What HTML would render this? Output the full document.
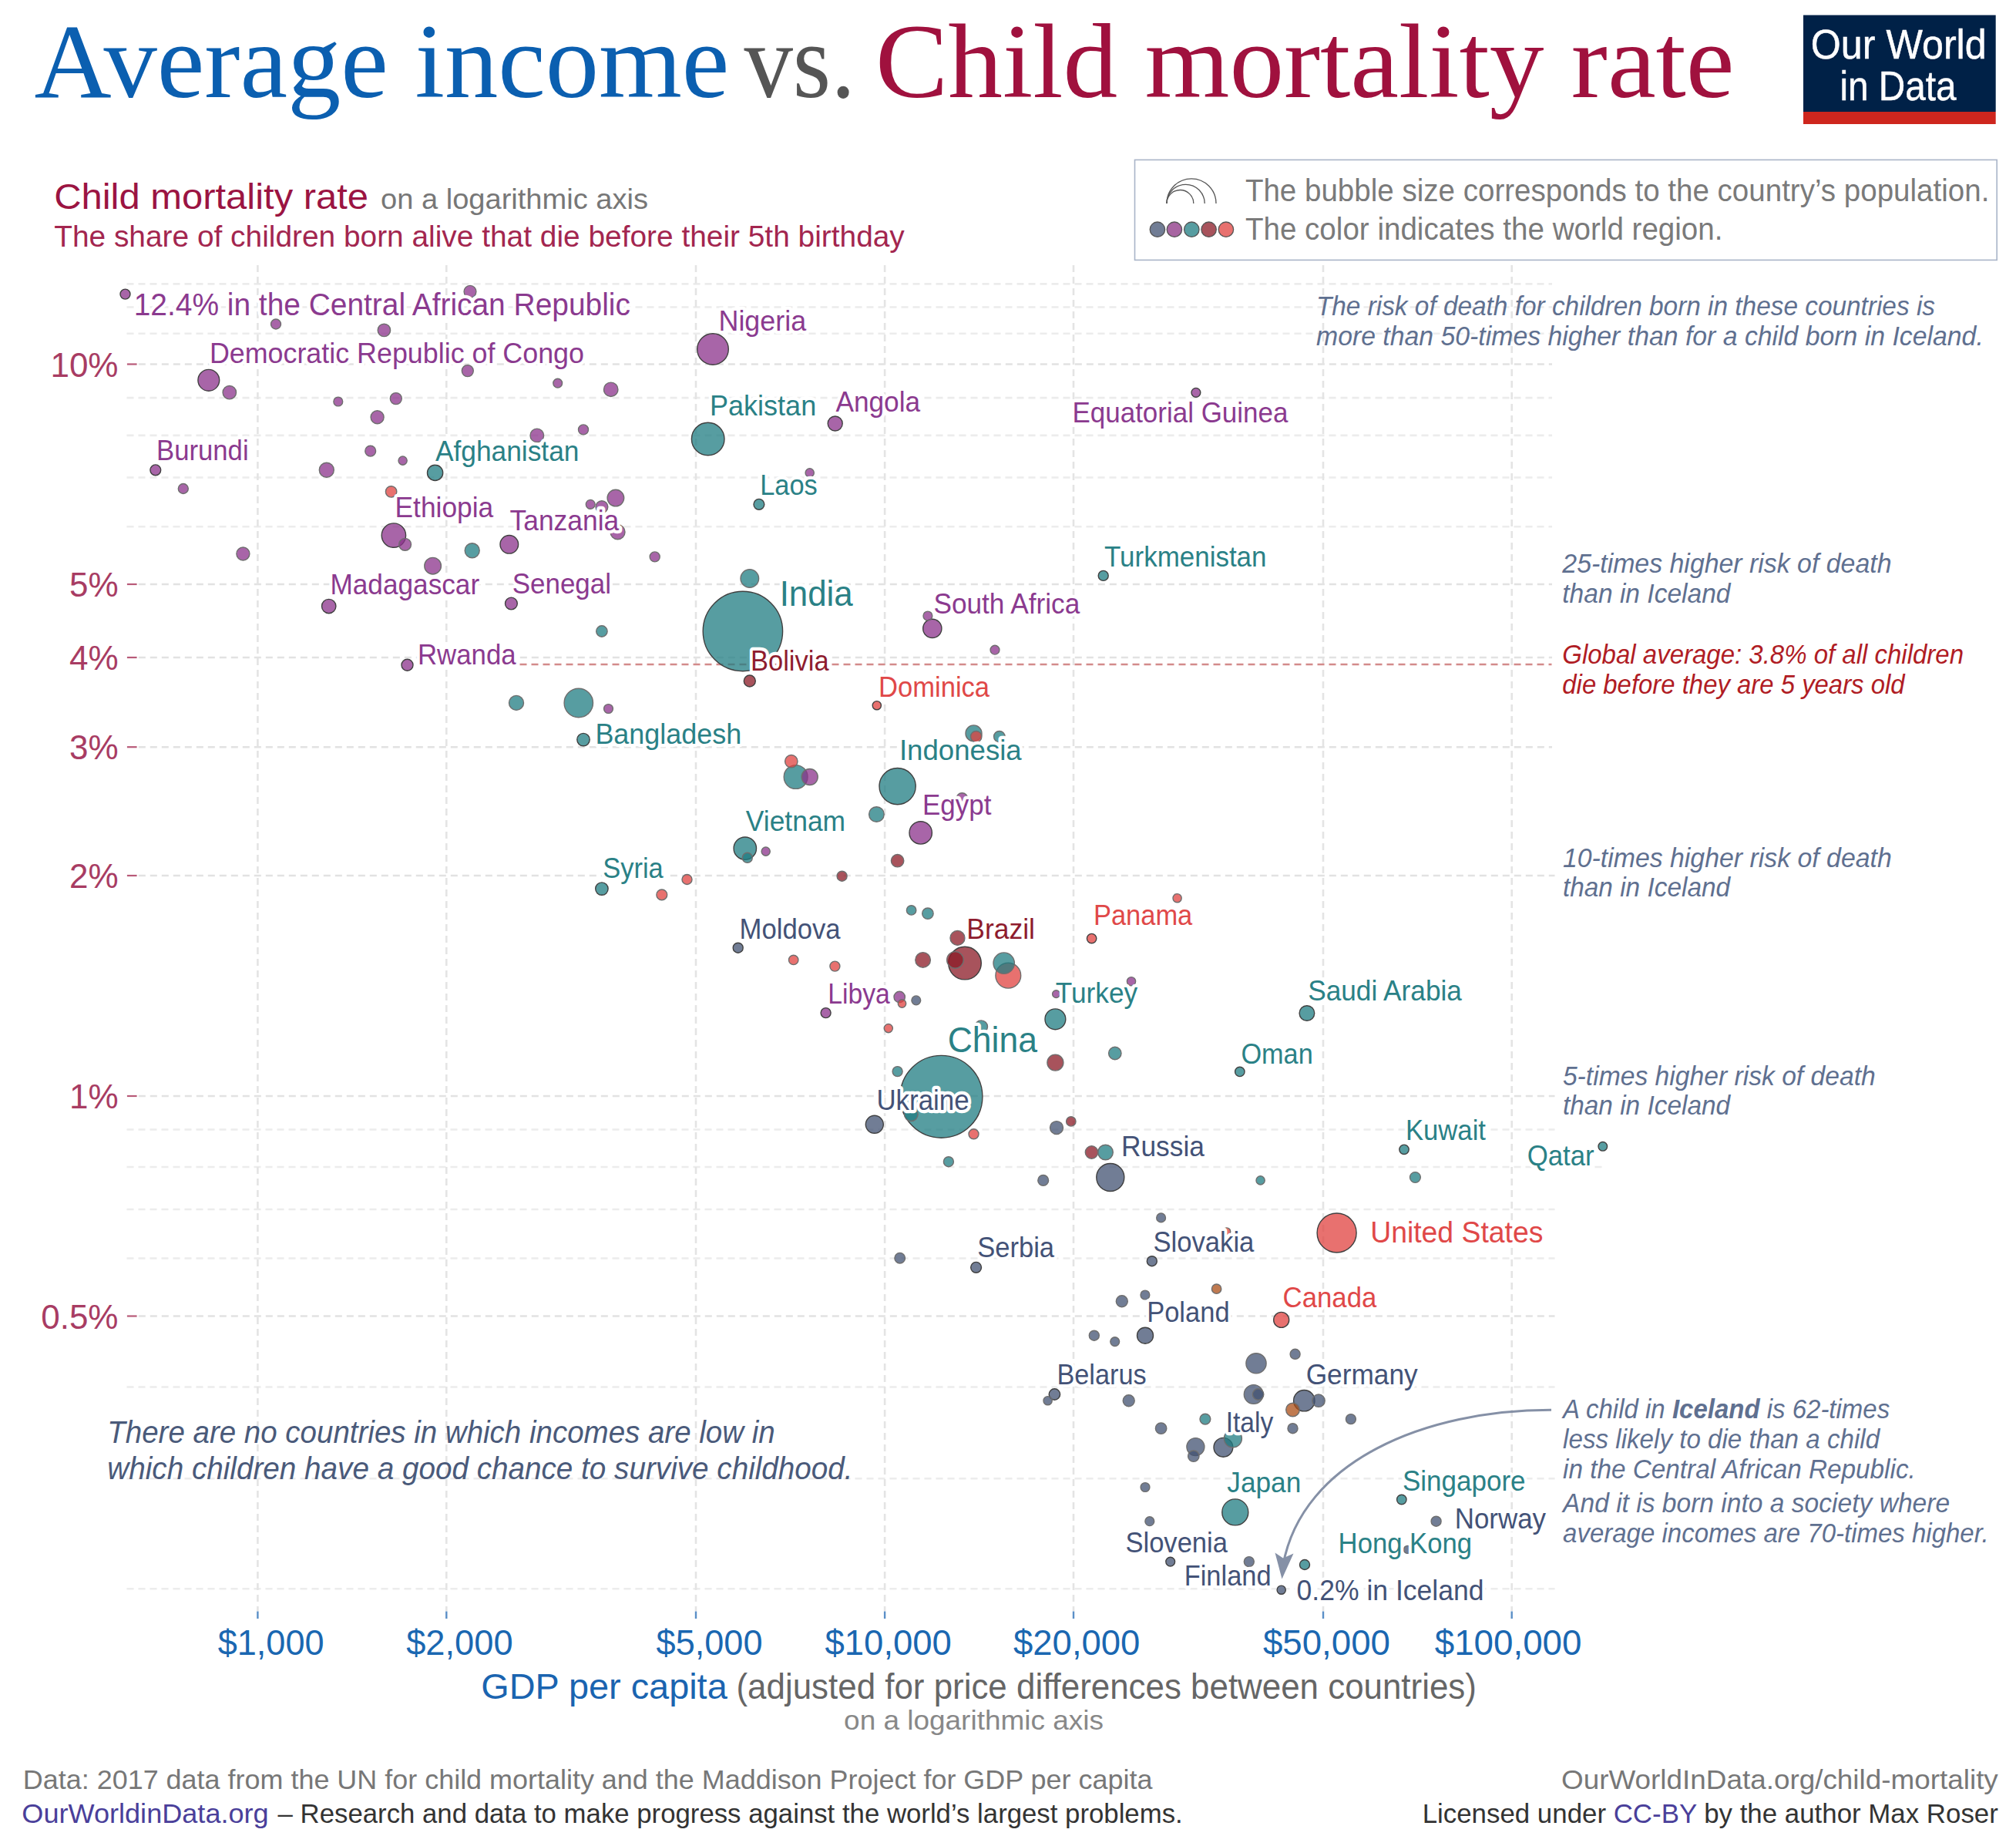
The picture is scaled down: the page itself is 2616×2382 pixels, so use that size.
<!DOCTYPE html><html><head><meta charset="utf-8"><title>Average income vs. Child mortality rate</title>
<style>html,body{margin:0;padding:0;background:#fff;}body{width:2616px;height:2382px;overflow:hidden;}svg{display:block;}text{white-space:pre;}</style></head><body>
<svg width="2616" height="2382" viewBox="0 0 2616 2382">
<rect x="0" y="0" width="2616" height="2382" fill="#ffffff"/>
<text x="44.6" y="126.2" font-family='"Liberation Serif", serif' font-size="138" fill="#0b5fb0" font-weight="normal" font-style="normal" textLength="901.8" lengthAdjust="spacingAndGlyphs">Average income</text>
<text x="965.4" y="126.2" font-family='"Liberation Serif", serif' font-size="138" fill="#555555" font-weight="normal" font-style="normal" textLength="144.6" lengthAdjust="spacingAndGlyphs">vs.</text>
<text x="1136.1" y="126.2" font-family='"Liberation Serif", serif' font-size="138" fill="#a0113e" font-weight="normal" font-style="normal" textLength="1114.5" lengthAdjust="spacingAndGlyphs">Child mortality rate</text>
<rect x="2340" y="19.6" width="249.7" height="125.4" fill="#002147"/>
<rect x="2340" y="145" width="249.7" height="16" fill="#ce261e"/>
<text x="2349.8" y="75.8" font-family='"Liberation Sans", sans-serif' font-size="53" fill="#ffffff" font-weight="normal" font-style="normal" textLength="227.9" lengthAdjust="spacingAndGlyphs" stroke="#ffffff" stroke-width="0.5">Our World</text>
<text x="2387.4" y="129.8" font-family='"Liberation Sans", sans-serif' font-size="53" fill="#ffffff" font-weight="normal" font-style="normal" textLength="151.2" lengthAdjust="spacingAndGlyphs" stroke="#ffffff" stroke-width="0.5">in Data</text>
<text x="70.2" y="270.8" font-family='"Liberation Sans", sans-serif' font-size="47" fill="#9b1442" font-weight="normal" font-style="normal" textLength="407.8" lengthAdjust="spacingAndGlyphs">Child mortality rate</text>
<text x="494.0" y="270.8" font-family='"Liberation Sans", sans-serif' font-size="37" fill="#777777" font-weight="normal" font-style="normal" textLength="347.0" lengthAdjust="spacingAndGlyphs">on a logarithmic axis</text>
<text x="70.2" y="319.6" font-family='"Liberation Sans", sans-serif' font-size="39" fill="#a3264f" font-weight="normal" font-style="normal" textLength="1103.6" lengthAdjust="spacingAndGlyphs">The share of children born alive that die before their 5th birthday</text>
<rect x="1472.5" y="207.4" width="1118.7" height="130" fill="#ffffff" stroke="#a9b4c8" stroke-width="1.6"/>
<path d="M1514 263.9 A17.4 17.4 0 0 1 1548.8 263.9" fill="none" stroke="#555" stroke-width="1.3"/>
<path d="M1514 263.9 A24.6 24.6 0 0 1 1563.2 263.9" fill="none" stroke="#555" stroke-width="1.3"/>
<path d="M1514 263.9 A32 32 0 0 1 1578.0 263.9" fill="none" stroke="#555" stroke-width="1.3"/>
<circle cx="1501.9" cy="297.7" r="9.7" fill="#717d95" stroke="#555" stroke-width="1.3"/>
<circle cx="1523.9" cy="297.7" r="9.7" fill="#a865a2" stroke="#555" stroke-width="1.3"/>
<circle cx="1546.3" cy="297.7" r="9.7" fill="#579da1" stroke="#555" stroke-width="1.3"/>
<circle cx="1568.6" cy="297.7" r="9.7" fill="#a8535c" stroke="#555" stroke-width="1.3"/>
<circle cx="1590.9" cy="297.7" r="9.7" fill="#e8716f" stroke="#555" stroke-width="1.3"/>
<text x="1615.9" y="261.0" font-family='"Liberation Sans", sans-serif' font-size="40.5" fill="#7a7a7a" font-weight="normal" font-style="normal" textLength="965.5" lengthAdjust="spacingAndGlyphs">The bubble size corresponds to the country’s population.</text>
<text x="1615.9" y="310.6" font-family='"Liberation Sans", sans-serif' font-size="40.5" fill="#7a7a7a" font-weight="normal" font-style="normal" textLength="619.6" lengthAdjust="spacingAndGlyphs">The color indicates the world region.</text>
<line x1="164.5" y1="368.4" x2="2014" y2="368.4" stroke="#ececec" stroke-width="2.6" stroke-dasharray="9 6"/>
<line x1="164.5" y1="398.5" x2="2014" y2="398.5" stroke="#ececec" stroke-width="2.6" stroke-dasharray="9 6"/>
<line x1="164.5" y1="432.7" x2="2014" y2="432.7" stroke="#ececec" stroke-width="2.6" stroke-dasharray="9 6"/>
<line x1="179.8" y1="472.5" x2="2014" y2="472.5" stroke="#e2e2e2" stroke-width="2.6" stroke-dasharray="9 6"/>
<line x1="164.5" y1="516.1" x2="2014" y2="516.1" stroke="#ececec" stroke-width="2.6" stroke-dasharray="9 6"/>
<line x1="164.5" y1="564.9" x2="2014" y2="564.9" stroke="#ececec" stroke-width="2.6" stroke-dasharray="9 6"/>
<line x1="164.5" y1="619.5" x2="2014" y2="619.5" stroke="#ececec" stroke-width="2.6" stroke-dasharray="9 6"/>
<line x1="164.5" y1="683.3" x2="2014" y2="683.3" stroke="#ececec" stroke-width="2.6" stroke-dasharray="9 6"/>
<line x1="179.8" y1="758" x2="2014" y2="758" stroke="#e2e2e2" stroke-width="2.6" stroke-dasharray="9 6"/>
<line x1="179.8" y1="853" x2="2014" y2="853" stroke="#e2e2e2" stroke-width="2.6" stroke-dasharray="9 6"/>
<line x1="179.8" y1="969.2" x2="2014" y2="969.2" stroke="#e2e2e2" stroke-width="2.6" stroke-dasharray="9 6"/>
<line x1="179.8" y1="1136" x2="2017.5" y2="1136" stroke="#e2e2e2" stroke-width="2.6" stroke-dasharray="9 6"/>
<line x1="179.8" y1="1422" x2="2017.5" y2="1422" stroke="#e2e2e2" stroke-width="2.6" stroke-dasharray="9 6"/>
<line x1="164.5" y1="1465.5" x2="2017.5" y2="1465.5" stroke="#ececec" stroke-width="2.6" stroke-dasharray="9 6"/>
<line x1="164.5" y1="1514" x2="2079" y2="1514" stroke="#ececec" stroke-width="2.6" stroke-dasharray="9 6"/>
<line x1="164.5" y1="1569" x2="2017.5" y2="1569" stroke="#ececec" stroke-width="2.6" stroke-dasharray="9 6"/>
<line x1="164.5" y1="1632.5" x2="2017.5" y2="1632.5" stroke="#ececec" stroke-width="2.6" stroke-dasharray="9 6"/>
<line x1="179.8" y1="1707.5" x2="2017.5" y2="1707.5" stroke="#e2e2e2" stroke-width="2.6" stroke-dasharray="9 6"/>
<line x1="164.5" y1="1799.5" x2="2017.5" y2="1799.5" stroke="#ececec" stroke-width="2.6" stroke-dasharray="9 6"/>
<line x1="164.5" y1="1918.3" x2="2017.5" y2="1918.3" stroke="#ececec" stroke-width="2.6" stroke-dasharray="9 6"/>
<line x1="164.5" y1="2061.2" x2="2017.5" y2="2061.2" stroke="#ececec" stroke-width="2.6" stroke-dasharray="9 6"/>
<line x1="334.4" y1="344" x2="334.4" y2="2090" stroke="#e4e4e4" stroke-width="2.6" stroke-dasharray="9 6"/>
<line x1="579.3" y1="344" x2="579.3" y2="2090" stroke="#e4e4e4" stroke-width="2.6" stroke-dasharray="9 6"/>
<line x1="903" y1="344" x2="903" y2="2090" stroke="#e4e4e4" stroke-width="2.6" stroke-dasharray="9 6"/>
<line x1="1148.1" y1="344" x2="1148.1" y2="2090" stroke="#e4e4e4" stroke-width="2.6" stroke-dasharray="9 6"/>
<line x1="1393" y1="344" x2="1393" y2="2090" stroke="#e4e4e4" stroke-width="2.6" stroke-dasharray="9 6"/>
<line x1="1717" y1="344" x2="1717" y2="2090" stroke="#e4e4e4" stroke-width="2.6" stroke-dasharray="9 6"/>
<line x1="1961.7" y1="344" x2="1961.7" y2="2090" stroke="#e4e4e4" stroke-width="2.6" stroke-dasharray="9 6"/>
<line x1="164.9" y1="472.5" x2="177.6" y2="472.5" stroke="#b85a78" stroke-width="2.2"/>
<text x="153.5" y="488.5" font-family='"Liberation Sans", sans-serif' font-size="44" fill="#a83c63" text-anchor="end">10%</text>
<line x1="164.9" y1="758" x2="177.6" y2="758" stroke="#b85a78" stroke-width="2.2"/>
<text x="153.5" y="774.0" font-family='"Liberation Sans", sans-serif' font-size="44" fill="#a83c63" text-anchor="end">5%</text>
<line x1="164.9" y1="853" x2="177.6" y2="853" stroke="#b85a78" stroke-width="2.2"/>
<text x="153.5" y="869.0" font-family='"Liberation Sans", sans-serif' font-size="44" fill="#a83c63" text-anchor="end">4%</text>
<line x1="164.9" y1="969.2" x2="177.6" y2="969.2" stroke="#b85a78" stroke-width="2.2"/>
<text x="153.5" y="985.2" font-family='"Liberation Sans", sans-serif' font-size="44" fill="#a83c63" text-anchor="end">3%</text>
<line x1="164.9" y1="1136" x2="177.6" y2="1136" stroke="#b85a78" stroke-width="2.2"/>
<text x="153.5" y="1152.0" font-family='"Liberation Sans", sans-serif' font-size="44" fill="#a83c63" text-anchor="end">2%</text>
<line x1="164.9" y1="1422" x2="177.6" y2="1422" stroke="#b85a78" stroke-width="2.2"/>
<text x="153.5" y="1438.0" font-family='"Liberation Sans", sans-serif' font-size="44" fill="#a83c63" text-anchor="end">1%</text>
<line x1="164.9" y1="1707.5" x2="177.6" y2="1707.5" stroke="#b85a78" stroke-width="2.2"/>
<text x="153.5" y="1723.5" font-family='"Liberation Sans", sans-serif' font-size="44" fill="#a83c63" text-anchor="end">0.5%</text>
<line x1="334.4" y1="2090.5" x2="334.4" y2="2100" stroke="#5b8fc7" stroke-width="2.4"/>
<text x="282.7" y="2146.5" font-family='"Liberation Sans", sans-serif' font-size="47" fill="#1a67b1" font-weight="normal" font-style="normal" textLength="137.9" lengthAdjust="spacingAndGlyphs">$1,000</text>
<line x1="579.3" y1="2090.5" x2="579.3" y2="2100" stroke="#5b8fc7" stroke-width="2.4"/>
<text x="527.2" y="2146.5" font-family='"Liberation Sans", sans-serif' font-size="47" fill="#1a67b1" font-weight="normal" font-style="normal" textLength="138.4" lengthAdjust="spacingAndGlyphs">$2,000</text>
<line x1="903" y1="2090.5" x2="903" y2="2100" stroke="#5b8fc7" stroke-width="2.4"/>
<text x="851.6" y="2146.5" font-family='"Liberation Sans", sans-serif' font-size="47" fill="#1a67b1" font-weight="normal" font-style="normal" textLength="137.9" lengthAdjust="spacingAndGlyphs">$5,000</text>
<line x1="1148.1" y1="2090.5" x2="1148.1" y2="2100" stroke="#5b8fc7" stroke-width="2.4"/>
<text x="1070.5" y="2146.5" font-family='"Liberation Sans", sans-serif' font-size="47" fill="#1a67b1" font-weight="normal" font-style="normal" textLength="164.4" lengthAdjust="spacingAndGlyphs">$10,000</text>
<line x1="1393" y1="2090.5" x2="1393" y2="2100" stroke="#5b8fc7" stroke-width="2.4"/>
<text x="1315.0" y="2146.5" font-family='"Liberation Sans", sans-serif' font-size="47" fill="#1a67b1" font-weight="normal" font-style="normal" textLength="164.4" lengthAdjust="spacingAndGlyphs">$20,000</text>
<line x1="1717" y1="2090.5" x2="1717" y2="2100" stroke="#5b8fc7" stroke-width="2.4"/>
<text x="1638.9" y="2146.5" font-family='"Liberation Sans", sans-serif' font-size="47" fill="#1a67b1" font-weight="normal" font-style="normal" textLength="165.1" lengthAdjust="spacingAndGlyphs">$50,000</text>
<line x1="1961.7" y1="2090.5" x2="1961.7" y2="2100" stroke="#5b8fc7" stroke-width="2.4"/>
<text x="1861.7" y="2146.5" font-family='"Liberation Sans", sans-serif' font-size="47" fill="#1a67b1" font-weight="normal" font-style="normal" textLength="190.8" lengthAdjust="spacingAndGlyphs">$100,000</text>
<text x="624.3" y="2204.0" font-family='"Liberation Sans", sans-serif' font-size="46" fill="#1a64b0" font-weight="normal" font-style="normal" textLength="319.4" lengthAdjust="spacingAndGlyphs">GDP per capita</text>
<text x="955.5" y="2204.0" font-family='"Liberation Sans", sans-serif' font-size="46" fill="#666666" font-weight="normal" font-style="normal" textLength="960.4" lengthAdjust="spacingAndGlyphs">(adjusted for price differences between countries)</text>
<text x="1095.1" y="2243.7" font-family='"Liberation Sans", sans-serif' font-size="35" fill="#888888" font-weight="normal" font-style="normal" textLength="336.8" lengthAdjust="spacingAndGlyphs">on a logarithmic axis</text>
<line x1="674.5" y1="862" x2="2013.5" y2="862" stroke="#d38b8b" stroke-width="2.4" stroke-dasharray="9 6"/>
<circle cx="1221.5" cy="1422.8" r="53.4" fill="#1f7c82" fill-opacity="0.75" stroke="#404040" stroke-width="1.4"/>
<circle cx="963.9" cy="819" r="51.7" fill="#1f7c82" fill-opacity="0.75" stroke="#404040" stroke-width="1.4"/>
<circle cx="1734.6" cy="1599.5" r="25.5" fill="#e0423f" fill-opacity="0.75" stroke="#404040" stroke-width="1.4"/>
<circle cx="1164.6" cy="1020.1" r="23.6" fill="#1f7c82" fill-opacity="0.75" stroke="#404040" stroke-width="1.4"/>
<circle cx="918.7" cy="569.5" r="21.3" fill="#1f7c82" fill-opacity="0.75" stroke="#404040" stroke-width="1.4"/>
<circle cx="1252" cy="1249.6" r="21.3" fill="#8b1a26" fill-opacity="0.75" stroke="#404040" stroke-width="1.4"/>
<circle cx="925" cy="453" r="20.3" fill="#8b328b" fill-opacity="0.75" stroke="#404040" stroke-width="1.4"/>
<circle cx="750.8" cy="912" r="18.7" fill="#1f7c82" fill-opacity="0.75" stroke="#6e6e6e" stroke-width="1.4"/>
<circle cx="1440.8" cy="1527.5" r="18" fill="#425272" fill-opacity="0.75" stroke="#404040" stroke-width="1.4"/>
<circle cx="1602.8" cy="1961.9" r="17" fill="#1f7c82" fill-opacity="0.75" stroke="#404040" stroke-width="1.4"/>
<circle cx="1308.3" cy="1265.7" r="16.4" fill="#e0423f" fill-opacity="0.75" stroke="#6e6e6e" stroke-width="1.4"/>
<circle cx="510.9" cy="694.6" r="15.7" fill="#8b328b" fill-opacity="0.75" stroke="#404040" stroke-width="1.4"/>
<circle cx="1032.6" cy="1008" r="15.4" fill="#1f7c82" fill-opacity="0.75" stroke="#6e6e6e" stroke-width="1.4"/>
<circle cx="1194.7" cy="1080.4" r="14.7" fill="#8b328b" fill-opacity="0.75" stroke="#404040" stroke-width="1.4"/>
<circle cx="966.8" cy="1100.7" r="14.7" fill="#1f7c82" fill-opacity="0.75" stroke="#404040" stroke-width="1.4"/>
<circle cx="270.8" cy="493.3" r="13.9" fill="#8b328b" fill-opacity="0.75" stroke="#404040" stroke-width="1.4"/>
<circle cx="1302.7" cy="1249.6" r="13.7" fill="#1f7c82" fill-opacity="0.75" stroke="#6e6e6e" stroke-width="1.4"/>
<circle cx="1692.3" cy="1817.2" r="13.7" fill="#425272" fill-opacity="0.75" stroke="#404040" stroke-width="1.4"/>
<circle cx="1369.4" cy="1322.3" r="13.4" fill="#1f7c82" fill-opacity="0.75" stroke="#404040" stroke-width="1.4"/>
<circle cx="1630" cy="1768.8" r="13.1" fill="#425272" fill-opacity="0.75" stroke="#6e6e6e" stroke-width="1.4"/>
<circle cx="1626.7" cy="1809" r="12.4" fill="#425272" fill-opacity="0.75" stroke="#6e6e6e" stroke-width="1.4"/>
<circle cx="1587.4" cy="1877.8" r="12.4" fill="#425272" fill-opacity="0.75" stroke="#404040" stroke-width="1.4"/>
<circle cx="1209.8" cy="815.4" r="12.1" fill="#8b328b" fill-opacity="0.75" stroke="#404040" stroke-width="1.4"/>
<circle cx="660.8" cy="706.3" r="11.8" fill="#8b328b" fill-opacity="0.75" stroke="#404040" stroke-width="1.4"/>
<circle cx="972.8" cy="750.5" r="11.8" fill="#1f7c82" fill-opacity="0.75" stroke="#6e6e6e" stroke-width="1.4"/>
<circle cx="1134.8" cy="1458.8" r="11.5" fill="#425272" fill-opacity="0.75" stroke="#404040" stroke-width="1.4"/>
<circle cx="1599.9" cy="1866.3" r="11.5" fill="#1f7c82" fill-opacity="0.75" stroke="#6e6e6e" stroke-width="1.4"/>
<circle cx="1551.4" cy="1877.1" r="11.5" fill="#425272" fill-opacity="0.75" stroke="#6e6e6e" stroke-width="1.4"/>
<circle cx="561.6" cy="734.2" r="10.8" fill="#8b328b" fill-opacity="0.75" stroke="#6e6e6e" stroke-width="1.4"/>
<circle cx="798.9" cy="646.1" r="10.8" fill="#8b328b" fill-opacity="0.75" stroke="#6e6e6e" stroke-width="1.4"/>
<circle cx="1239.5" cy="1245.4" r="10.8" fill="#8b1a26" fill-opacity="0.75" stroke="#6e6e6e" stroke-width="1.4"/>
<circle cx="1263.5" cy="951.4" r="10.5" fill="#1f7c82" fill-opacity="0.75" stroke="#6e6e6e" stroke-width="1.4"/>
<circle cx="1050.7" cy="1008" r="10.5" fill="#8b328b" fill-opacity="0.75" stroke="#6e6e6e" stroke-width="1.4"/>
<circle cx="1369.4" cy="1378.6" r="10.5" fill="#8b1a26" fill-opacity="0.75" stroke="#6e6e6e" stroke-width="1.4"/>
<circle cx="1486" cy="1732.7" r="10.5" fill="#425272" fill-opacity="0.75" stroke="#404040" stroke-width="1.4"/>
<circle cx="564.6" cy="613.4" r="10.1" fill="#1f7c82" fill-opacity="0.75" stroke="#404040" stroke-width="1.4"/>
<circle cx="1662.7" cy="1712.4" r="10" fill="#e0423f" fill-opacity="0.75" stroke="#404040" stroke-width="1.4"/>
<circle cx="1137.4" cy="1056.5" r="9.8" fill="#1f7c82" fill-opacity="0.75" stroke="#6e6e6e" stroke-width="1.4"/>
<circle cx="1197.6" cy="1245.4" r="9.8" fill="#8b1a26" fill-opacity="0.75" stroke="#6e6e6e" stroke-width="1.4"/>
<circle cx="1695.9" cy="1314.5" r="9.8" fill="#1f7c82" fill-opacity="0.75" stroke="#404040" stroke-width="1.4"/>
<circle cx="1434.5" cy="1495" r="9.8" fill="#1f7c82" fill-opacity="0.75" stroke="#6e6e6e" stroke-width="1.4"/>
<circle cx="423.8" cy="609.8" r="9.5" fill="#8b328b" fill-opacity="0.75" stroke="#6e6e6e" stroke-width="1.4"/>
<circle cx="612.7" cy="714.2" r="9.5" fill="#1f7c82" fill-opacity="0.75" stroke="#6e6e6e" stroke-width="1.4"/>
<circle cx="670" cy="911.9" r="9.5" fill="#1f7c82" fill-opacity="0.75" stroke="#6e6e6e" stroke-width="1.4"/>
<circle cx="1083.7" cy="549.5" r="9.5" fill="#8b328b" fill-opacity="0.75" stroke="#404040" stroke-width="1.4"/>
<circle cx="801.5" cy="690.3" r="9.5" fill="#8b328b" fill-opacity="0.75" stroke="#6e6e6e" stroke-width="1.4"/>
<circle cx="1242.5" cy="1216.9" r="9.5" fill="#8b1a26" fill-opacity="0.75" stroke="#6e6e6e" stroke-width="1.4"/>
<circle cx="426.7" cy="786.6" r="9.2" fill="#8b328b" fill-opacity="0.75" stroke="#404040" stroke-width="1.4"/>
<circle cx="792.7" cy="505.3" r="9.2" fill="#8b328b" fill-opacity="0.75" stroke="#6e6e6e" stroke-width="1.4"/>
<circle cx="696.8" cy="564.9" r="8.8" fill="#8b328b" fill-opacity="0.75" stroke="#6e6e6e" stroke-width="1.4"/>
<circle cx="1182.3" cy="1445.7" r="8.8" fill="#1f7c82" fill-opacity="0.75" stroke="#6e6e6e" stroke-width="1.4"/>
<circle cx="1677.5" cy="1829" r="8.8" fill="#ab4e16" fill-opacity="0.75" stroke="#6e6e6e" stroke-width="1.4"/>
<circle cx="297.8" cy="509.2" r="8.7" fill="#8b328b" fill-opacity="0.75" stroke="#6e6e6e" stroke-width="1.4"/>
<circle cx="489.6" cy="541.3" r="8.5" fill="#8b328b" fill-opacity="0.75" stroke="#6e6e6e" stroke-width="1.4"/>
<circle cx="315.4" cy="718.5" r="8.5" fill="#8b328b" fill-opacity="0.75" stroke="#6e6e6e" stroke-width="1.4"/>
<circle cx="1371" cy="1463.1" r="8.5" fill="#425272" fill-opacity="0.75" stroke="#6e6e6e" stroke-width="1.4"/>
<circle cx="498.4" cy="428.4" r="8.2" fill="#8b328b" fill-opacity="0.75" stroke="#6e6e6e" stroke-width="1.4"/>
<circle cx="757" cy="959.6" r="8.2" fill="#1f7c82" fill-opacity="0.75" stroke="#404040" stroke-width="1.4"/>
<circle cx="1026.8" cy="987.7" r="8.2" fill="#e0423f" fill-opacity="0.75" stroke="#6e6e6e" stroke-width="1.4"/>
<circle cx="1164.6" cy="1116.7" r="8.2" fill="#8b1a26" fill-opacity="0.75" stroke="#6e6e6e" stroke-width="1.4"/>
<circle cx="780.9" cy="1153.1" r="8.2" fill="#1f7c82" fill-opacity="0.75" stroke="#404040" stroke-width="1.4"/>
<circle cx="1273.3" cy="1332.1" r="8.2" fill="#1f7c82" fill-opacity="0.75" stroke="#6e6e6e" stroke-width="1.4"/>
<circle cx="1446.8" cy="1366.5" r="8.2" fill="#1f7c82" fill-opacity="0.75" stroke="#6e6e6e" stroke-width="1.4"/>
<circle cx="1416.5" cy="1495" r="8.2" fill="#8b1a26" fill-opacity="0.75" stroke="#6e6e6e" stroke-width="1.4"/>
<circle cx="1711" cy="1817.2" r="8.2" fill="#425272" fill-opacity="0.75" stroke="#6e6e6e" stroke-width="1.4"/>
<circle cx="610" cy="378.3" r="7.9" fill="#8b328b" fill-opacity="0.75" stroke="#6e6e6e" stroke-width="1.4"/>
<circle cx="525.6" cy="706.3" r="7.9" fill="#8b328b" fill-opacity="0.75" stroke="#6e6e6e" stroke-width="1.4"/>
<circle cx="663.4" cy="783" r="7.9" fill="#8b328b" fill-opacity="0.75" stroke="#404040" stroke-width="1.4"/>
<circle cx="780.9" cy="657.6" r="7.9" fill="#8b328b" fill-opacity="0.75" stroke="#6e6e6e" stroke-width="1.4"/>
<circle cx="606.8" cy="481.1" r="7.5" fill="#8b328b" fill-opacity="0.75" stroke="#6e6e6e" stroke-width="1.4"/>
<circle cx="513.8" cy="517.1" r="7.5" fill="#8b328b" fill-opacity="0.75" stroke="#6e6e6e" stroke-width="1.4"/>
<circle cx="528.5" cy="862.8" r="7.5" fill="#8b328b" fill-opacity="0.75" stroke="#404040" stroke-width="1.4"/>
<circle cx="972.8" cy="883.5" r="7.5" fill="#8b1a26" fill-opacity="0.75" stroke="#404040" stroke-width="1.4"/>
<circle cx="1455.8" cy="1688.2" r="7.5" fill="#425272" fill-opacity="0.75" stroke="#6e6e6e" stroke-width="1.4"/>
<circle cx="1464.7" cy="1817.2" r="7.5" fill="#425272" fill-opacity="0.75" stroke="#6e6e6e" stroke-width="1.4"/>
<circle cx="507.6" cy="637.9" r="7.2" fill="#e0423f" fill-opacity="0.75" stroke="#6e6e6e" stroke-width="1.4"/>
<circle cx="780.9" cy="819" r="7.2" fill="#1f7c82" fill-opacity="0.75" stroke="#6e6e6e" stroke-width="1.4"/>
<circle cx="1266.7" cy="955.7" r="7.2" fill="#e0423f" fill-opacity="0.75" stroke="#6e6e6e" stroke-width="1.4"/>
<circle cx="1296.8" cy="955.7" r="7.2" fill="#1f7c82" fill-opacity="0.75" stroke="#6e6e6e" stroke-width="1.4"/>
<circle cx="1248.4" cy="1035.9" r="7.2" fill="#8b328b" fill-opacity="0.75" stroke="#6e6e6e" stroke-width="1.4"/>
<circle cx="1203.9" cy="1185.2" r="7.2" fill="#1f7c82" fill-opacity="0.75" stroke="#6e6e6e" stroke-width="1.4"/>
<circle cx="1167.2" cy="1293.5" r="7.2" fill="#8b328b" fill-opacity="0.75" stroke="#6e6e6e" stroke-width="1.4"/>
<circle cx="1368.4" cy="1809" r="7.2" fill="#425272" fill-opacity="0.75" stroke="#404040" stroke-width="1.4"/>
<circle cx="1632.6" cy="1809" r="7.2" fill="#425272" fill-opacity="0.75" stroke="#6e6e6e" stroke-width="1.4"/>
<circle cx="1506.6" cy="1853.2" r="7.2" fill="#425272" fill-opacity="0.75" stroke="#6e6e6e" stroke-width="1.4"/>
<circle cx="1548.8" cy="1889.2" r="7.2" fill="#425272" fill-opacity="0.75" stroke="#6e6e6e" stroke-width="1.4"/>
<circle cx="480.7" cy="585.2" r="6.9" fill="#8b328b" fill-opacity="0.75" stroke="#6e6e6e" stroke-width="1.4"/>
<circle cx="201.8" cy="609.8" r="6.9" fill="#8b328b" fill-opacity="0.75" stroke="#404040" stroke-width="1.4"/>
<circle cx="984.9" cy="654.3" r="6.9" fill="#1f7c82" fill-opacity="0.75" stroke="#404040" stroke-width="1.4"/>
<circle cx="858.8" cy="1160.9" r="6.9" fill="#e0423f" fill-opacity="0.75" stroke="#6e6e6e" stroke-width="1.4"/>
<circle cx="1836.4" cy="1527.5" r="6.9" fill="#1f7c82" fill-opacity="0.75" stroke="#6e6e6e" stroke-width="1.4"/>
<circle cx="1353.7" cy="1531.4" r="6.9" fill="#425272" fill-opacity="0.75" stroke="#6e6e6e" stroke-width="1.4"/>
<circle cx="1266.6" cy="1644.3" r="6.9" fill="#425272" fill-opacity="0.75" stroke="#404040" stroke-width="1.4"/>
<circle cx="1563.9" cy="1841.1" r="6.9" fill="#1f7c82" fill-opacity="0.75" stroke="#6e6e6e" stroke-width="1.4"/>
<circle cx="1167.7" cy="1632.2" r="6.8" fill="#425272" fill-opacity="0.75" stroke="#6e6e6e" stroke-width="1.4"/>
<circle cx="162.5" cy="381.6" r="6.5" fill="#8b328b" fill-opacity="0.75" stroke="#404040" stroke-width="1.4"/>
<circle cx="358" cy="420.5" r="6.5" fill="#8b328b" fill-opacity="0.75" stroke="#6e6e6e" stroke-width="1.4"/>
<circle cx="757" cy="557.4" r="6.5" fill="#8b328b" fill-opacity="0.75" stroke="#6e6e6e" stroke-width="1.4"/>
<circle cx="237.8" cy="634" r="6.5" fill="#8b328b" fill-opacity="0.75" stroke="#6e6e6e" stroke-width="1.4"/>
<circle cx="849.7" cy="722.4" r="6.5" fill="#8b328b" fill-opacity="0.75" stroke="#6e6e6e" stroke-width="1.4"/>
<circle cx="1431.7" cy="746.9" r="6.5" fill="#1f7c82" fill-opacity="0.75" stroke="#404040" stroke-width="1.4"/>
<circle cx="969.8" cy="1112.8" r="6.5" fill="#1f7c82" fill-opacity="0.75" stroke="#6e6e6e" stroke-width="1.4"/>
<circle cx="1092.6" cy="1136.7" r="6.5" fill="#8b1a26" fill-opacity="0.75" stroke="#6e6e6e" stroke-width="1.4"/>
<circle cx="891.5" cy="1141" r="6.5" fill="#e0423f" fill-opacity="0.75" stroke="#6e6e6e" stroke-width="1.4"/>
<circle cx="957.7" cy="1229.7" r="6.5" fill="#425272" fill-opacity="0.75" stroke="#404040" stroke-width="1.4"/>
<circle cx="1083.4" cy="1253.6" r="6.5" fill="#e0423f" fill-opacity="0.75" stroke="#6e6e6e" stroke-width="1.4"/>
<circle cx="1071.6" cy="1314.1" r="6.5" fill="#8b328b" fill-opacity="0.75" stroke="#404040" stroke-width="1.4"/>
<circle cx="1164.6" cy="1390.1" r="6.5" fill="#1f7c82" fill-opacity="0.75" stroke="#6e6e6e" stroke-width="1.4"/>
<circle cx="1263.5" cy="1471.3" r="6.5" fill="#e0423f" fill-opacity="0.75" stroke="#6e6e6e" stroke-width="1.4"/>
<circle cx="1230.9" cy="1507.2" r="6.5" fill="#1f7c82" fill-opacity="0.75" stroke="#6e6e6e" stroke-width="1.4"/>
<circle cx="1494.8" cy="1636.2" r="6.5" fill="#425272" fill-opacity="0.75" stroke="#404040" stroke-width="1.4"/>
<circle cx="1419.8" cy="1732.7" r="6.5" fill="#425272" fill-opacity="0.75" stroke="#6e6e6e" stroke-width="1.4"/>
<circle cx="1680.6" cy="1756.8" r="6.5" fill="#425272" fill-opacity="0.75" stroke="#6e6e6e" stroke-width="1.4"/>
<circle cx="1752.9" cy="1841.1" r="6.5" fill="#425272" fill-opacity="0.75" stroke="#6e6e6e" stroke-width="1.4"/>
<circle cx="1677.5" cy="1853.2" r="6.5" fill="#425272" fill-opacity="0.75" stroke="#6e6e6e" stroke-width="1.4"/>
<circle cx="1620.8" cy="2026.1" r="6.5" fill="#425272" fill-opacity="0.75" stroke="#6e6e6e" stroke-width="1.4"/>
<circle cx="1693" cy="2030" r="6.5" fill="#1f7c82" fill-opacity="0.75" stroke="#404040" stroke-width="1.4"/>
<circle cx="1863.6" cy="1973.7" r="6.5" fill="#425272" fill-opacity="0.75" stroke="#6e6e6e" stroke-width="1.4"/>
<circle cx="1182.6" cy="1180.9" r="6.2" fill="#1f7c82" fill-opacity="0.75" stroke="#6e6e6e" stroke-width="1.4"/>
<circle cx="1029.7" cy="1245.4" r="6.2" fill="#e0423f" fill-opacity="0.75" stroke="#6e6e6e" stroke-width="1.4"/>
<circle cx="1416.6" cy="1217.6" r="6.2" fill="#e0423f" fill-opacity="0.75" stroke="#404040" stroke-width="1.4"/>
<circle cx="1608.8" cy="1390.4" r="6.2" fill="#1f7c82" fill-opacity="0.75" stroke="#404040" stroke-width="1.4"/>
<circle cx="1389.8" cy="1454.9" r="6.2" fill="#8b1a26" fill-opacity="0.75" stroke="#6e6e6e" stroke-width="1.4"/>
<circle cx="1822" cy="1491.3" r="6.2" fill="#1f7c82" fill-opacity="0.75" stroke="#404040" stroke-width="1.4"/>
<circle cx="1578.6" cy="1672.2" r="6.2" fill="#ab4e16" fill-opacity="0.75" stroke="#6e6e6e" stroke-width="1.4"/>
<circle cx="1818.8" cy="1945.5" r="6.2" fill="#1f7c82" fill-opacity="0.75" stroke="#404040" stroke-width="1.4"/>
<circle cx="723.7" cy="497.1" r="5.9" fill="#8b328b" fill-opacity="0.75" stroke="#6e6e6e" stroke-width="1.4"/>
<circle cx="438.8" cy="521" r="5.9" fill="#8b328b" fill-opacity="0.75" stroke="#6e6e6e" stroke-width="1.4"/>
<circle cx="766.2" cy="654.3" r="5.9" fill="#8b328b" fill-opacity="0.75" stroke="#6e6e6e" stroke-width="1.4"/>
<circle cx="1203.9" cy="799" r="5.9" fill="#8b328b" fill-opacity="0.75" stroke="#6e6e6e" stroke-width="1.4"/>
<circle cx="1291" cy="843.2" r="5.9" fill="#8b328b" fill-opacity="0.75" stroke="#6e6e6e" stroke-width="1.4"/>
<circle cx="789.5" cy="919.5" r="5.9" fill="#8b328b" fill-opacity="0.75" stroke="#6e6e6e" stroke-width="1.4"/>
<circle cx="1551.9" cy="509.3" r="5.9" fill="#8b328b" fill-opacity="0.75" stroke="#404040" stroke-width="1.4"/>
<circle cx="1188.8" cy="1297.8" r="5.9" fill="#425272" fill-opacity="0.75" stroke="#6e6e6e" stroke-width="1.4"/>
<circle cx="1506.6" cy="1579.9" r="5.9" fill="#425272" fill-opacity="0.75" stroke="#6e6e6e" stroke-width="1.4"/>
<circle cx="1485.9" cy="1680" r="5.9" fill="#425272" fill-opacity="0.75" stroke="#6e6e6e" stroke-width="1.4"/>
<circle cx="1446.7" cy="1740.6" r="5.9" fill="#425272" fill-opacity="0.75" stroke="#6e6e6e" stroke-width="1.4"/>
<circle cx="1486" cy="1929.5" r="5.9" fill="#425272" fill-opacity="0.75" stroke="#6e6e6e" stroke-width="1.4"/>
<circle cx="1491.8" cy="1973.7" r="5.9" fill="#425272" fill-opacity="0.75" stroke="#6e6e6e" stroke-width="1.4"/>
<circle cx="1518.7" cy="2026.1" r="5.9" fill="#425272" fill-opacity="0.75" stroke="#404040" stroke-width="1.4"/>
<circle cx="2079.8" cy="1487.3" r="5.8" fill="#1f7c82" fill-opacity="0.75" stroke="#404040" stroke-width="1.4"/>
<circle cx="522.6" cy="597.6" r="5.6" fill="#8b328b" fill-opacity="0.75" stroke="#6e6e6e" stroke-width="1.4"/>
<circle cx="1050.7" cy="613.4" r="5.6" fill="#8b328b" fill-opacity="0.75" stroke="#6e6e6e" stroke-width="1.4"/>
<circle cx="1137.8" cy="915.2" r="5.6" fill="#e0423f" fill-opacity="0.75" stroke="#404040" stroke-width="1.4"/>
<circle cx="993.7" cy="1104.6" r="5.6" fill="#8b328b" fill-opacity="0.75" stroke="#6e6e6e" stroke-width="1.4"/>
<circle cx="1152.8" cy="1334.1" r="5.6" fill="#e0423f" fill-opacity="0.75" stroke="#6e6e6e" stroke-width="1.4"/>
<circle cx="1527.6" cy="1165.2" r="5.6" fill="#e0423f" fill-opacity="0.75" stroke="#6e6e6e" stroke-width="1.4"/>
<circle cx="1468" cy="1273.2" r="5.6" fill="#8b328b" fill-opacity="0.75" stroke="#6e6e6e" stroke-width="1.4"/>
<circle cx="1635.6" cy="1531.4" r="5.6" fill="#1f7c82" fill-opacity="0.75" stroke="#6e6e6e" stroke-width="1.4"/>
<circle cx="1359.6" cy="1817.2" r="5.6" fill="#425272" fill-opacity="0.75" stroke="#6e6e6e" stroke-width="1.4"/>
<circle cx="1662.7" cy="2062.7" r="5.6" fill="#425272" fill-opacity="0.75" stroke="#404040" stroke-width="1.4"/>
<circle cx="1170.5" cy="1302" r="5.2" fill="#e0423f" fill-opacity="0.75" stroke="#6e6e6e" stroke-width="1.4"/>
<circle cx="1591.7" cy="1597.9" r="5" fill="#e0423f" fill-opacity="0.75" stroke="#6e6e6e" stroke-width="1.4"/>
<circle cx="1826.5" cy="2010.4" r="5" fill="#425272" fill-opacity="0.75" stroke="#6e6e6e" stroke-width="1.4"/>
<circle cx="1370.5" cy="1289.6" r="4.9" fill="#8b328b" fill-opacity="0.75" stroke="#6e6e6e" stroke-width="1.4"/>
<text x="173.7" y="409.2" font-family='"Liberation Sans", sans-serif' font-size="40.0" fill="#ffffff" stroke="#ffffff" stroke-width="8.5" stroke-linejoin="round" textLength="644.2" lengthAdjust="spacingAndGlyphs">12.4% in the Central African Republic</text>
<text x="271.9" y="471.2" font-family='"Liberation Sans", sans-serif' font-size="36.9" fill="#ffffff" stroke="#ffffff" stroke-width="8.5" stroke-linejoin="round" textLength="486.1" lengthAdjust="spacingAndGlyphs">Democratic Republic of Congo</text>
<text x="203.0" y="596.6" font-family='"Liberation Sans", sans-serif' font-size="36.9" fill="#ffffff" stroke="#ffffff" stroke-width="8.5" stroke-linejoin="round" textLength="119.6" lengthAdjust="spacingAndGlyphs">Burundi</text>
<text x="564.9" y="597.8" font-family='"Liberation Sans", sans-serif' font-size="36.9" fill="#ffffff" stroke="#ffffff" stroke-width="8.5" stroke-linejoin="round" textLength="186.6" lengthAdjust="spacingAndGlyphs">Afghanistan</text>
<text x="512.5" y="671.4" font-family='"Liberation Sans", sans-serif' font-size="36.9" fill="#ffffff" stroke="#ffffff" stroke-width="8.5" stroke-linejoin="round" textLength="127.7" lengthAdjust="spacingAndGlyphs">Ethiopia</text>
<text x="661.5" y="688.2" font-family='"Liberation Sans", sans-serif' font-size="36.9" fill="#ffffff" stroke="#ffffff" stroke-width="8.5" stroke-linejoin="round" textLength="141.7" lengthAdjust="spacingAndGlyphs">Tanzania</text>
<text x="428.4" y="771.0" font-family='"Liberation Sans", sans-serif' font-size="36.9" fill="#ffffff" stroke="#ffffff" stroke-width="8.5" stroke-linejoin="round" textLength="193.8" lengthAdjust="spacingAndGlyphs">Madagascar</text>
<text x="664.7" y="770.2" font-family='"Liberation Sans", sans-serif' font-size="36.9" fill="#ffffff" stroke="#ffffff" stroke-width="8.5" stroke-linejoin="round" textLength="128.3" lengthAdjust="spacingAndGlyphs">Senegal</text>
<text x="542.0" y="861.7" font-family='"Liberation Sans", sans-serif' font-size="36.9" fill="#ffffff" stroke="#ffffff" stroke-width="8.5" stroke-linejoin="round" textLength="127.6" lengthAdjust="spacingAndGlyphs">Rwanda</text>
<text x="932.5" y="428.9" font-family='"Liberation Sans", sans-serif' font-size="36.9" fill="#ffffff" stroke="#ffffff" stroke-width="8.5" stroke-linejoin="round" textLength="113.6" lengthAdjust="spacingAndGlyphs">Nigeria</text>
<text x="921.0" y="538.6" font-family='"Liberation Sans", sans-serif' font-size="36.9" fill="#ffffff" stroke="#ffffff" stroke-width="8.5" stroke-linejoin="round" textLength="138.2" lengthAdjust="spacingAndGlyphs">Pakistan</text>
<text x="1084.4" y="533.7" font-family='"Liberation Sans", sans-serif' font-size="36.9" fill="#ffffff" stroke="#ffffff" stroke-width="8.5" stroke-linejoin="round" textLength="109.7" lengthAdjust="spacingAndGlyphs">Angola</text>
<text x="986.2" y="642.2" font-family='"Liberation Sans", sans-serif' font-size="36.9" fill="#ffffff" stroke="#ffffff" stroke-width="8.5" stroke-linejoin="round" textLength="74.6" lengthAdjust="spacingAndGlyphs">Laos</text>
<text x="1011.7" y="786.4" font-family='"Liberation Sans", sans-serif' font-size="45.8" fill="#ffffff" stroke="#ffffff" stroke-width="8.5" stroke-linejoin="round" textLength="95.0" lengthAdjust="spacingAndGlyphs">India</text>
<text x="1211.4" y="795.6" font-family='"Liberation Sans", sans-serif' font-size="36.9" fill="#ffffff" stroke="#ffffff" stroke-width="8.5" stroke-linejoin="round" textLength="189.9" lengthAdjust="spacingAndGlyphs">South Africa</text>
<text x="974.0" y="869.9" font-family='"Liberation Sans", sans-serif' font-size="36.9" fill="#ffffff" stroke="#ffffff" stroke-width="8.5" stroke-linejoin="round" textLength="101.6" lengthAdjust="spacingAndGlyphs">Bolivia</text>
<text x="1140.0" y="904.2" font-family='"Liberation Sans", sans-serif' font-size="36.9" fill="#ffffff" stroke="#ffffff" stroke-width="8.5" stroke-linejoin="round" textLength="144.1" lengthAdjust="spacingAndGlyphs">Dominica</text>
<text x="1391.5" y="548.1" font-family='"Liberation Sans", sans-serif' font-size="36.9" fill="#ffffff" stroke="#ffffff" stroke-width="8.5" stroke-linejoin="round" textLength="279.9" lengthAdjust="spacingAndGlyphs">Equatorial Guinea</text>
<text x="1433.0" y="735.0" font-family='"Liberation Sans", sans-serif' font-size="36.9" fill="#ffffff" stroke="#ffffff" stroke-width="8.5" stroke-linejoin="round" textLength="210.5" lengthAdjust="spacingAndGlyphs">Turkmenistan</text>
<text x="772.4" y="965.0" font-family='"Liberation Sans", sans-serif' font-size="36.9" fill="#ffffff" stroke="#ffffff" stroke-width="8.5" stroke-linejoin="round" textLength="189.9" lengthAdjust="spacingAndGlyphs">Bangladesh</text>
<text x="1166.9" y="985.7" font-family='"Liberation Sans", sans-serif' font-size="36.9" fill="#ffffff" stroke="#ffffff" stroke-width="8.5" stroke-linejoin="round" textLength="158.8" lengthAdjust="spacingAndGlyphs">Indonesia</text>
<text x="1197.0" y="1056.7" font-family='"Liberation Sans", sans-serif' font-size="36.9" fill="#ffffff" stroke="#ffffff" stroke-width="8.5" stroke-linejoin="round" textLength="89.4" lengthAdjust="spacingAndGlyphs">Egypt</text>
<text x="967.8" y="1078.0" font-family='"Liberation Sans", sans-serif' font-size="36.9" fill="#ffffff" stroke="#ffffff" stroke-width="8.5" stroke-linejoin="round" textLength="129.3" lengthAdjust="spacingAndGlyphs">Vietnam</text>
<text x="782.2" y="1138.6" font-family='"Liberation Sans", sans-serif' font-size="36.9" fill="#ffffff" stroke="#ffffff" stroke-width="8.5" stroke-linejoin="round" textLength="78.6" lengthAdjust="spacingAndGlyphs">Syria</text>
<text x="959.6" y="1217.8" font-family='"Liberation Sans", sans-serif' font-size="36.9" fill="#ffffff" stroke="#ffffff" stroke-width="8.5" stroke-linejoin="round" textLength="131.0" lengthAdjust="spacingAndGlyphs">Moldova</text>
<text x="1254.3" y="1217.8" font-family='"Liberation Sans", sans-serif' font-size="36.9" fill="#ffffff" stroke="#ffffff" stroke-width="8.5" stroke-linejoin="round" textLength="88.7" lengthAdjust="spacingAndGlyphs">Brazil</text>
<text x="1074.2" y="1302.2" font-family='"Liberation Sans", sans-serif' font-size="36.9" fill="#ffffff" stroke="#ffffff" stroke-width="8.5" stroke-linejoin="round" textLength="80.6" lengthAdjust="spacingAndGlyphs">Libya</text>
<text x="1229.7" y="1365.4" font-family='"Liberation Sans", sans-serif' font-size="46.3" fill="#ffffff" stroke="#ffffff" stroke-width="8.5" stroke-linejoin="round" textLength="116.3" lengthAdjust="spacingAndGlyphs">China</text>
<text x="1137.4" y="1439.7" font-family='"Liberation Sans", sans-serif' font-size="36.9" fill="#ffffff" stroke="#ffffff" stroke-width="8.5" stroke-linejoin="round" textLength="120.2" lengthAdjust="spacingAndGlyphs">Ukraine</text>
<text x="1418.9" y="1200.1" font-family='"Liberation Sans", sans-serif' font-size="36.9" fill="#ffffff" stroke="#ffffff" stroke-width="8.5" stroke-linejoin="round" textLength="128.4" lengthAdjust="spacingAndGlyphs">Panama</text>
<text x="1369.8" y="1300.6" font-family='"Liberation Sans", sans-serif' font-size="36.9" fill="#ffffff" stroke="#ffffff" stroke-width="8.5" stroke-linejoin="round" textLength="106.4" lengthAdjust="spacingAndGlyphs">Turkey</text>
<text x="1697.2" y="1298.0" font-family='"Liberation Sans", sans-serif' font-size="36.9" fill="#ffffff" stroke="#ffffff" stroke-width="8.5" stroke-linejoin="round" textLength="199.7" lengthAdjust="spacingAndGlyphs">Saudi Arabia</text>
<text x="1610.4" y="1379.8" font-family='"Liberation Sans", sans-serif' font-size="36.9" fill="#ffffff" stroke="#ffffff" stroke-width="8.5" stroke-linejoin="round" textLength="93.3" lengthAdjust="spacingAndGlyphs">Oman</text>
<text x="1823.9" y="1479.0" font-family='"Liberation Sans", sans-serif' font-size="36.9" fill="#ffffff" stroke="#ffffff" stroke-width="8.5" stroke-linejoin="round" textLength="104.1" lengthAdjust="spacingAndGlyphs">Kuwait</text>
<text x="1981.7" y="1512.2" font-family='"Liberation Sans", sans-serif' font-size="36.9" fill="#ffffff" stroke="#ffffff" stroke-width="8.5" stroke-linejoin="round" textLength="87.0" lengthAdjust="spacingAndGlyphs">Qatar</text>
<text x="1455.0" y="1499.9" font-family='"Liberation Sans", sans-serif' font-size="36.9" fill="#ffffff" stroke="#ffffff" stroke-width="8.5" stroke-linejoin="round" textLength="107.9" lengthAdjust="spacingAndGlyphs">Russia</text>
<text x="1268.2" y="1631.2" font-family='"Liberation Sans", sans-serif' font-size="36.9" fill="#ffffff" stroke="#ffffff" stroke-width="8.5" stroke-linejoin="round" textLength="99.9" lengthAdjust="spacingAndGlyphs">Serbia</text>
<text x="1496.4" y="1623.6" font-family='"Liberation Sans", sans-serif' font-size="36.9" fill="#ffffff" stroke="#ffffff" stroke-width="8.5" stroke-linejoin="round" textLength="131.0" lengthAdjust="spacingAndGlyphs">Slovakia</text>
<text x="1664.6" y="1695.6" font-family='"Liberation Sans", sans-serif' font-size="36.9" fill="#ffffff" stroke="#ffffff" stroke-width="8.5" stroke-linejoin="round" textLength="121.7" lengthAdjust="spacingAndGlyphs">Canada</text>
<text x="1488.2" y="1715.3" font-family='"Liberation Sans", sans-serif' font-size="36.9" fill="#ffffff" stroke="#ffffff" stroke-width="8.5" stroke-linejoin="round" textLength="107.4" lengthAdjust="spacingAndGlyphs">Poland</text>
<text x="1371.4" y="1795.5" font-family='"Liberation Sans", sans-serif' font-size="36.9" fill="#ffffff" stroke="#ffffff" stroke-width="8.5" stroke-linejoin="round" textLength="116.2" lengthAdjust="spacingAndGlyphs">Belarus</text>
<text x="1694.7" y="1795.5" font-family='"Liberation Sans", sans-serif' font-size="36.9" fill="#ffffff" stroke="#ffffff" stroke-width="8.5" stroke-linejoin="round" textLength="145.0" lengthAdjust="spacingAndGlyphs">Germany</text>
<text x="1590.7" y="1857.7" font-family='"Liberation Sans", sans-serif' font-size="36.9" fill="#ffffff" stroke="#ffffff" stroke-width="8.5" stroke-linejoin="round" textLength="61.6" lengthAdjust="spacingAndGlyphs">Italy</text>
<text x="1592.3" y="1936.3" font-family='"Liberation Sans", sans-serif' font-size="36.9" fill="#ffffff" stroke="#ffffff" stroke-width="8.5" stroke-linejoin="round" textLength="96.0" lengthAdjust="spacingAndGlyphs">Japan</text>
<text x="1460.4" y="2014.2" font-family='"Liberation Sans", sans-serif' font-size="36.9" fill="#ffffff" stroke="#ffffff" stroke-width="8.5" stroke-linejoin="round" textLength="132.6" lengthAdjust="spacingAndGlyphs">Slovenia</text>
<text x="1536.7" y="2057.4" font-family='"Liberation Sans", sans-serif' font-size="36.9" fill="#ffffff" stroke="#ffffff" stroke-width="8.5" stroke-linejoin="round" textLength="112.9" lengthAdjust="spacingAndGlyphs">Finland</text>
<text x="1682.6" y="2076.4" font-family='"Liberation Sans", sans-serif' font-size="36.9" fill="#ffffff" stroke="#ffffff" stroke-width="8.5" stroke-linejoin="round" textLength="242.9" lengthAdjust="spacingAndGlyphs">0.2% in Iceland</text>
<text x="1778.2" y="1612.2" font-family='"Liberation Sans", sans-serif' font-size="38.8" fill="#ffffff" stroke="#ffffff" stroke-width="8.5" stroke-linejoin="round" textLength="224.2" lengthAdjust="spacingAndGlyphs">United States</text>
<text x="1820.0" y="1934.0" font-family='"Liberation Sans", sans-serif' font-size="36.9" fill="#ffffff" stroke="#ffffff" stroke-width="8.5" stroke-linejoin="round" textLength="159.5" lengthAdjust="spacingAndGlyphs">Singapore</text>
<text x="1887.8" y="1983.1" font-family='"Liberation Sans", sans-serif' font-size="36.9" fill="#ffffff" stroke="#ffffff" stroke-width="8.5" stroke-linejoin="round" textLength="118.2" lengthAdjust="spacingAndGlyphs">Norway</text>
<text x="1736.6" y="2014.8" font-family='"Liberation Sans", sans-serif' font-size="36.9" fill="#ffffff" stroke="#ffffff" stroke-width="8.5" stroke-linejoin="round" textLength="173.5" lengthAdjust="spacingAndGlyphs">Hong Kong</text>
<text x="173.7" y="409.2" font-family='"Liberation Sans", sans-serif' font-size="40.0" fill="#8b3a8f" textLength="644.2" lengthAdjust="spacingAndGlyphs">12.4% in the Central African Republic</text>
<text x="271.9" y="471.2" font-family='"Liberation Sans", sans-serif' font-size="36.9" fill="#8b3a8f" textLength="486.1" lengthAdjust="spacingAndGlyphs">Democratic Republic of Congo</text>
<text x="203.0" y="596.6" font-family='"Liberation Sans", sans-serif' font-size="36.9" fill="#8b3a8f" textLength="119.6" lengthAdjust="spacingAndGlyphs">Burundi</text>
<text x="564.9" y="597.8" font-family='"Liberation Sans", sans-serif' font-size="36.9" fill="#2a8186" textLength="186.6" lengthAdjust="spacingAndGlyphs">Afghanistan</text>
<text x="512.5" y="671.4" font-family='"Liberation Sans", sans-serif' font-size="36.9" fill="#8b3a8f" textLength="127.7" lengthAdjust="spacingAndGlyphs">Ethiopia</text>
<text x="661.5" y="688.2" font-family='"Liberation Sans", sans-serif' font-size="36.9" fill="#8b3a8f" textLength="141.7" lengthAdjust="spacingAndGlyphs">Tanzania</text>
<text x="428.4" y="771.0" font-family='"Liberation Sans", sans-serif' font-size="36.9" fill="#8b3a8f" textLength="193.8" lengthAdjust="spacingAndGlyphs">Madagascar</text>
<text x="664.7" y="770.2" font-family='"Liberation Sans", sans-serif' font-size="36.9" fill="#8b3a8f" textLength="128.3" lengthAdjust="spacingAndGlyphs">Senegal</text>
<text x="542.0" y="861.7" font-family='"Liberation Sans", sans-serif' font-size="36.9" fill="#8b3a8f" textLength="127.6" lengthAdjust="spacingAndGlyphs">Rwanda</text>
<text x="932.5" y="428.9" font-family='"Liberation Sans", sans-serif' font-size="36.9" fill="#8b3a8f" textLength="113.6" lengthAdjust="spacingAndGlyphs">Nigeria</text>
<text x="921.0" y="538.6" font-family='"Liberation Sans", sans-serif' font-size="36.9" fill="#2a8186" textLength="138.2" lengthAdjust="spacingAndGlyphs">Pakistan</text>
<text x="1084.4" y="533.7" font-family='"Liberation Sans", sans-serif' font-size="36.9" fill="#8b3a8f" textLength="109.7" lengthAdjust="spacingAndGlyphs">Angola</text>
<text x="986.2" y="642.2" font-family='"Liberation Sans", sans-serif' font-size="36.9" fill="#2a8186" textLength="74.6" lengthAdjust="spacingAndGlyphs">Laos</text>
<text x="1011.7" y="786.4" font-family='"Liberation Sans", sans-serif' font-size="45.8" fill="#2a8186" textLength="95.0" lengthAdjust="spacingAndGlyphs">India</text>
<text x="1211.4" y="795.6" font-family='"Liberation Sans", sans-serif' font-size="36.9" fill="#8b3a8f" textLength="189.9" lengthAdjust="spacingAndGlyphs">South Africa</text>
<text x="974.0" y="869.9" font-family='"Liberation Sans", sans-serif' font-size="36.9" fill="#8e1c2e" textLength="101.6" lengthAdjust="spacingAndGlyphs">Bolivia</text>
<text x="1140.0" y="904.2" font-family='"Liberation Sans", sans-serif' font-size="36.9" fill="#e04848" textLength="144.1" lengthAdjust="spacingAndGlyphs">Dominica</text>
<text x="1391.5" y="548.1" font-family='"Liberation Sans", sans-serif' font-size="36.9" fill="#8b3a8f" textLength="279.9" lengthAdjust="spacingAndGlyphs">Equatorial Guinea</text>
<text x="1433.0" y="735.0" font-family='"Liberation Sans", sans-serif' font-size="36.9" fill="#2a8186" textLength="210.5" lengthAdjust="spacingAndGlyphs">Turkmenistan</text>
<text x="772.4" y="965.0" font-family='"Liberation Sans", sans-serif' font-size="36.9" fill="#2a8186" textLength="189.9" lengthAdjust="spacingAndGlyphs">Bangladesh</text>
<text x="1166.9" y="985.7" font-family='"Liberation Sans", sans-serif' font-size="36.9" fill="#2a8186" textLength="158.8" lengthAdjust="spacingAndGlyphs">Indonesia</text>
<text x="1197.0" y="1056.7" font-family='"Liberation Sans", sans-serif' font-size="36.9" fill="#8b3a8f" textLength="89.4" lengthAdjust="spacingAndGlyphs">Egypt</text>
<text x="967.8" y="1078.0" font-family='"Liberation Sans", sans-serif' font-size="36.9" fill="#2a8186" textLength="129.3" lengthAdjust="spacingAndGlyphs">Vietnam</text>
<text x="782.2" y="1138.6" font-family='"Liberation Sans", sans-serif' font-size="36.9" fill="#2a8186" textLength="78.6" lengthAdjust="spacingAndGlyphs">Syria</text>
<text x="959.6" y="1217.8" font-family='"Liberation Sans", sans-serif' font-size="36.9" fill="#435277" textLength="131.0" lengthAdjust="spacingAndGlyphs">Moldova</text>
<text x="1254.3" y="1217.8" font-family='"Liberation Sans", sans-serif' font-size="36.9" fill="#8e1c2e" textLength="88.7" lengthAdjust="spacingAndGlyphs">Brazil</text>
<text x="1074.2" y="1302.2" font-family='"Liberation Sans", sans-serif' font-size="36.9" fill="#8b3a8f" textLength="80.6" lengthAdjust="spacingAndGlyphs">Libya</text>
<text x="1229.7" y="1365.4" font-family='"Liberation Sans", sans-serif' font-size="46.3" fill="#2a8186" textLength="116.3" lengthAdjust="spacingAndGlyphs">China</text>
<text x="1137.4" y="1439.7" font-family='"Liberation Sans", sans-serif' font-size="36.9" fill="#435277" textLength="120.2" lengthAdjust="spacingAndGlyphs">Ukraine</text>
<text x="1418.9" y="1200.1" font-family='"Liberation Sans", sans-serif' font-size="36.9" fill="#e04848" textLength="128.4" lengthAdjust="spacingAndGlyphs">Panama</text>
<text x="1369.8" y="1300.6" font-family='"Liberation Sans", sans-serif' font-size="36.9" fill="#2a8186" textLength="106.4" lengthAdjust="spacingAndGlyphs">Turkey</text>
<text x="1697.2" y="1298.0" font-family='"Liberation Sans", sans-serif' font-size="36.9" fill="#2a8186" textLength="199.7" lengthAdjust="spacingAndGlyphs">Saudi Arabia</text>
<text x="1610.4" y="1379.8" font-family='"Liberation Sans", sans-serif' font-size="36.9" fill="#2a8186" textLength="93.3" lengthAdjust="spacingAndGlyphs">Oman</text>
<text x="1823.9" y="1479.0" font-family='"Liberation Sans", sans-serif' font-size="36.9" fill="#2a8186" textLength="104.1" lengthAdjust="spacingAndGlyphs">Kuwait</text>
<text x="1981.7" y="1512.2" font-family='"Liberation Sans", sans-serif' font-size="36.9" fill="#2a8186" textLength="87.0" lengthAdjust="spacingAndGlyphs">Qatar</text>
<text x="1455.0" y="1499.9" font-family='"Liberation Sans", sans-serif' font-size="36.9" fill="#435277" textLength="107.9" lengthAdjust="spacingAndGlyphs">Russia</text>
<text x="1268.2" y="1631.2" font-family='"Liberation Sans", sans-serif' font-size="36.9" fill="#435277" textLength="99.9" lengthAdjust="spacingAndGlyphs">Serbia</text>
<text x="1496.4" y="1623.6" font-family='"Liberation Sans", sans-serif' font-size="36.9" fill="#435277" textLength="131.0" lengthAdjust="spacingAndGlyphs">Slovakia</text>
<text x="1664.6" y="1695.6" font-family='"Liberation Sans", sans-serif' font-size="36.9" fill="#e04848" textLength="121.7" lengthAdjust="spacingAndGlyphs">Canada</text>
<text x="1488.2" y="1715.3" font-family='"Liberation Sans", sans-serif' font-size="36.9" fill="#435277" textLength="107.4" lengthAdjust="spacingAndGlyphs">Poland</text>
<text x="1371.4" y="1795.5" font-family='"Liberation Sans", sans-serif' font-size="36.9" fill="#435277" textLength="116.2" lengthAdjust="spacingAndGlyphs">Belarus</text>
<text x="1694.7" y="1795.5" font-family='"Liberation Sans", sans-serif' font-size="36.9" fill="#435277" textLength="145.0" lengthAdjust="spacingAndGlyphs">Germany</text>
<text x="1590.7" y="1857.7" font-family='"Liberation Sans", sans-serif' font-size="36.9" fill="#435277" textLength="61.6" lengthAdjust="spacingAndGlyphs">Italy</text>
<text x="1592.3" y="1936.3" font-family='"Liberation Sans", sans-serif' font-size="36.9" fill="#2a8186" textLength="96.0" lengthAdjust="spacingAndGlyphs">Japan</text>
<text x="1460.4" y="2014.2" font-family='"Liberation Sans", sans-serif' font-size="36.9" fill="#435277" textLength="132.6" lengthAdjust="spacingAndGlyphs">Slovenia</text>
<text x="1536.7" y="2057.4" font-family='"Liberation Sans", sans-serif' font-size="36.9" fill="#435277" textLength="112.9" lengthAdjust="spacingAndGlyphs">Finland</text>
<text x="1682.6" y="2076.4" font-family='"Liberation Sans", sans-serif' font-size="36.9" fill="#435277" textLength="242.9" lengthAdjust="spacingAndGlyphs">0.2% in Iceland</text>
<text x="1778.2" y="1612.2" font-family='"Liberation Sans", sans-serif' font-size="38.8" fill="#e04848" textLength="224.2" lengthAdjust="spacingAndGlyphs">United States</text>
<text x="1820.0" y="1934.0" font-family='"Liberation Sans", sans-serif' font-size="36.9" fill="#2a8186" textLength="159.5" lengthAdjust="spacingAndGlyphs">Singapore</text>
<text x="1887.8" y="1983.1" font-family='"Liberation Sans", sans-serif' font-size="36.9" fill="#435277" textLength="118.2" lengthAdjust="spacingAndGlyphs">Norway</text>
<text x="1736.6" y="2014.8" font-family='"Liberation Sans", sans-serif' font-size="36.9" fill="#2a8186" textLength="173.5" lengthAdjust="spacingAndGlyphs">Hong Kong</text>
<text x="1707.9" y="408.8" font-family='"Liberation Sans", sans-serif' font-size="35" fill="#5f7090" font-weight="normal" font-style="italic" textLength="803.1" lengthAdjust="spacingAndGlyphs">The risk of death for children born in these countries is</text>
<text x="1708.0" y="448.2" font-family='"Liberation Sans", sans-serif' font-size="35" fill="#5f7090" font-weight="normal" font-style="italic" textLength="865.8" lengthAdjust="spacingAndGlyphs">more than 50-times higher than for a child born in Iceland.</text>
<text x="2027.3" y="743.0" font-family='"Liberation Sans", sans-serif' font-size="35" fill="#5f7090" font-weight="normal" font-style="italic" textLength="427.2" lengthAdjust="spacingAndGlyphs">25-times higher risk of death</text>
<text x="2027.3" y="781.6" font-family='"Liberation Sans", sans-serif' font-size="35" fill="#5f7090" font-weight="normal" font-style="italic" textLength="218.2" lengthAdjust="spacingAndGlyphs">than in Iceland</text>
<text x="2027.3" y="861.4" font-family='"Liberation Sans", sans-serif' font-size="35" fill="#b01c24" font-weight="normal" font-style="italic" textLength="520.7" lengthAdjust="spacingAndGlyphs">Global average: 3.8% of all children</text>
<text x="2027.3" y="900.0" font-family='"Liberation Sans", sans-serif' font-size="35" fill="#b01c24" font-weight="normal" font-style="italic" textLength="444.3" lengthAdjust="spacingAndGlyphs">die before they are 5 years old</text>
<text x="2027.9" y="1124.6" font-family='"Liberation Sans", sans-serif' font-size="35" fill="#5f7090" font-weight="normal" font-style="italic" textLength="426.9" lengthAdjust="spacingAndGlyphs">10-times higher risk of death</text>
<text x="2027.9" y="1163.0" font-family='"Liberation Sans", sans-serif' font-size="35" fill="#5f7090" font-weight="normal" font-style="italic" textLength="217.3" lengthAdjust="spacingAndGlyphs">than in Iceland</text>
<text x="2027.9" y="1408.0" font-family='"Liberation Sans", sans-serif' font-size="35" fill="#5f7090" font-weight="normal" font-style="italic" textLength="405.9" lengthAdjust="spacingAndGlyphs">5-times higher risk of death</text>
<text x="2027.9" y="1446.4" font-family='"Liberation Sans", sans-serif' font-size="35" fill="#5f7090" font-weight="normal" font-style="italic" textLength="217.3" lengthAdjust="spacingAndGlyphs">than in Iceland</text>
<text x="2028.1" y="1840.2" font-family='"Liberation Sans", sans-serif' font-size="35" fill="#5f7090" font-style="italic" textLength="424.1" lengthAdjust="spacingAndGlyphs">A child in <tspan font-weight="bold">Iceland</tspan> is 62-times</text>
<text x="2028.1" y="1879.3" font-family='"Liberation Sans", sans-serif' font-size="35" fill="#5f7090" font-weight="normal" font-style="italic" textLength="411.0" lengthAdjust="spacingAndGlyphs">less likely to die than a child</text>
<text x="2028.1" y="1918.1" font-family='"Liberation Sans", sans-serif' font-size="35" fill="#5f7090" font-weight="normal" font-style="italic" textLength="457.7" lengthAdjust="spacingAndGlyphs">in the Central African Republic.</text>
<text x="2028.1" y="1962.4" font-family='"Liberation Sans", sans-serif' font-size="35" fill="#5f7090" font-weight="normal" font-style="italic" textLength="502.0" lengthAdjust="spacingAndGlyphs">And it is born into a society where</text>
<text x="2028.1" y="2000.6" font-family='"Liberation Sans", sans-serif' font-size="35" fill="#5f7090" font-weight="normal" font-style="italic" textLength="552.5" lengthAdjust="spacingAndGlyphs">average incomes are 70-times higher.</text>
<text x="139.3" y="1871.7" font-family='"Liberation Sans", sans-serif' font-size="40" fill="#4a5a7a" font-weight="normal" font-style="italic" textLength="866.4" lengthAdjust="spacingAndGlyphs">There are no countries in which incomes are low in</text>
<text x="139.3" y="1919.2" font-family='"Liberation Sans", sans-serif' font-size="40" fill="#4a5a7a" font-weight="normal" font-style="italic" textLength="967.3" lengthAdjust="spacingAndGlyphs">which children have a good chance to survive childhood.</text>
<path d="M2013 1829.3 C1850 1829, 1690 1895, 1665 2030" fill="none" stroke="#8590a6" stroke-width="3"/>
<path d="M1663.5 2048.5 L1654.5 2014.5 L1665 2021.5 L1678.5 2015.5 Z" fill="#8590a6"/>
<text x="29.8" y="2321.4" font-family='"Liberation Sans", sans-serif' font-size="34.6" fill="#777777" font-weight="normal" font-style="normal" textLength="1465.6" lengthAdjust="spacingAndGlyphs">Data: 2017 data from the UN for child mortality and the Maddison Project for GDP per capita</text>
<text x="28.3" y="2364.5" font-family='"Liberation Sans", sans-serif' font-size="34.6" fill="#4a3f9a" font-weight="normal" font-style="normal" textLength="320.4" lengthAdjust="spacingAndGlyphs">OurWorldinData.org</text>
<text x="360.6" y="2364.5" font-family='"Liberation Sans", sans-serif' font-size="34.6" fill="#333333" font-weight="normal" font-style="normal" textLength="1174.1" lengthAdjust="spacingAndGlyphs">– Research and data to make progress against the world’s largest problems.</text>
<text x="2026.0" y="2320.8" font-family='"Liberation Sans", sans-serif' font-size="34.6" fill="#777777" font-weight="normal" font-style="normal" textLength="566.8" lengthAdjust="spacingAndGlyphs">OurWorldInData.org/child-mortality</text>
<text x="1845.7" y="2365" font-family='"Liberation Sans", sans-serif' font-size="34.6" fill="#333333" textLength="747.1" lengthAdjust="spacingAndGlyphs">Licensed under <tspan fill="#4a3f9a">CC-BY</tspan> by the author Max Roser</text>
</svg></body></html>
